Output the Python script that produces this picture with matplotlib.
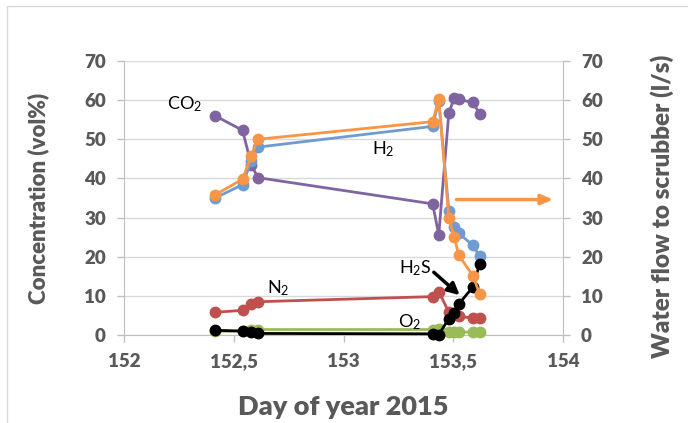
import matplotlib
matplotlib.use("Agg")
import matplotlib.pyplot as plt
from matplotlib.patches import Rectangle

plt.rcParams['font.family'] = ['Lato', 'DejaVu Sans']
plt.rcParams['mathtext.fontset'] = 'custom'
plt.rcParams['mathtext.rm'] = 'Lato'
plt.rcParams['mathtext.it'] = 'Lato:italic'
plt.rcParams['mathtext.bf'] = 'Lato:bold'

# Data (day of year 2015)
days = [152.415, 152.54, 152.58, 152.61, 153.406, 153.434, 153.48, 153.505, 153.525, 153.59, 153.62]
co2 = [56.0, 52.3, 43.5, 40.2, 33.5, 25.6, 56.8, 60.6, 60.2, 59.4, 56.5]
h2 = [35.0, 38.4, 44.5, 48.0, 53.3, 59.9, 31.8, 27.5, 26.0, 22.9, 20.1]
n2 = [5.8, 6.3, 8.0, 8.5, 9.8, 11.1, 5.8, 5.0, 4.8, 4.3, 4.3]
o2 = [0.9, 1.0, 1.3, 1.4, 1.4, 1.6, 0.8, 0.8, 0.8, 0.7, 0.7]
h2s = [1.2, 1.0, 0.7, 0.4, 0.3, 0.1, 4.2, 5.7, 7.9, 12.3, 18.2]
water_flow = [35.8, 39.8, 45.8, 50.0, 54.5, 60.3, 29.8, 25.0, 20.4, 15.1, 10.5]

x_ticks = [152, 152.5, 153, 153.5, 154]
x_tick_labels = ['152', '152,5', '153', '153,5', '154']
y_ticks = [0, 10, 20, 30, 40, 50, 60, 70]

C_PURPLE = '#8064A2'
C_BLUE = '#6F9BD1'
C_ORANGE = '#F79646'
C_RED = '#C0504D'
C_GREEN = '#9BBB59'
C_BLACK = '#000000'
TXT = '#595959'
GRID = '#D9D9D9'
AXC = '#BFBFBF'
BOLD = 'heavy'

fig = plt.figure(figsize=(6.88, 4.23), dpi=100)
fig.patches.append(Rectangle((7/688, -0.1), 1.2, 1 - 6/423 + 0.1, transform=fig.transFigure,
                             fill=False, edgecolor=GRID, linewidth=1.0))
ax = fig.add_axes([124/688, 1 - 335/423, (563 - 124)/688, (335 - 61)/423])
ax2 = ax.twinx()

lw = 2.0
ms = 7.5
kw = dict(marker='o', linewidth=lw, markersize=ms, clip_on=False)
ax.plot(days, o2, color=C_GREEN, zorder=3, **kw)
ax.plot(days, co2, color=C_PURPLE, zorder=4, **kw)
ax.plot(days, h2, color=C_BLUE, zorder=5, **kw)
ax.plot(days, n2, color=C_RED, zorder=6, **kw)
ax.plot(days, h2s, color=C_BLACK, zorder=7, **kw)
ax2.plot(days, water_flow, color=C_ORANGE, zorder=5, **kw)

for a in (ax, ax2):
    a.set_xlim(152, 154)
    a.set_ylim(0, 70)
    a.set_yticks(y_ticks)
    for s in a.spines.values():
        s.set_visible(False)
ax.set_xticks(x_ticks)
ax.set_xticklabels(x_tick_labels)
ax.yaxis.grid(True, color=GRID, linewidth=1.0)
ax.set_axisbelow(True)
ax.spines['left'].set_visible(True)
ax.spines['bottom'].set_visible(True)
ax.spines['left'].set_color(AXC)
ax.spines['bottom'].set_color(AXC)
ax2.spines['right'].set_visible(True)
ax2.spines['right'].set_color(AXC)

ax.tick_params(axis='both', colors=AXC, length=5, width=1, labelcolor=TXT, labelsize=13.5, pad=8)
ax2.tick_params(axis='y', colors=AXC, length=5, width=1, labelcolor=TXT, labelsize=13.5, pad=8)
for lab in ax.get_xticklabels() + ax.get_yticklabels() + ax2.get_yticklabels():
    lab.set_fontweight(BOLD)

ax.set_xlabel('Day of year 2015', fontsize=19.5, fontweight=BOLD, color=TXT)
ax.xaxis.set_label_coords(0.5, -0.22)
ax.set_ylabel('Concentration (vol%)', fontsize=16, fontweight=BOLD, color=TXT)
ax.yaxis.set_label_coords(-0.17, 0.5)
ax2.set_ylabel('Water flow to scrubber (l/s)', fontsize=17.5, fontweight=BOLD, color=TXT)
ax2.yaxis.set_label_coords(1.2, 0.47)

lab_kw = dict(fontsize=13, color='black', va='center', ha='left', zorder=10)
ax.text(152.196, 59.0, 'CO$_2$', **lab_kw)
ax.text(153.132, 47.6, 'H$_2$', **lab_kw)
ax.text(152.653, 12.0, 'N$_2$', **lab_kw)
ax.text(153.247, 3.3, 'O$_2$', **lab_kw)
ax.text(153.251, 17.0, 'H$_2$S', **lab_kw)

ax.annotate('', xy=(153.539, 9.7), xytext=(153.402, 16.5),
            arrowprops=dict(arrowstyle='-|>,head_length=0.7,head_width=0.35', color='black', lw=2.5), zorder=10)
ax2.annotate('', xy=(153.968, 34.6), xytext=(153.502, 34.6),
             arrowprops=dict(arrowstyle='-|>,head_length=0.7,head_width=0.3', color=C_ORANGE, lw=2.5), zorder=10)

fig.savefig('out.png', dpi=100)
